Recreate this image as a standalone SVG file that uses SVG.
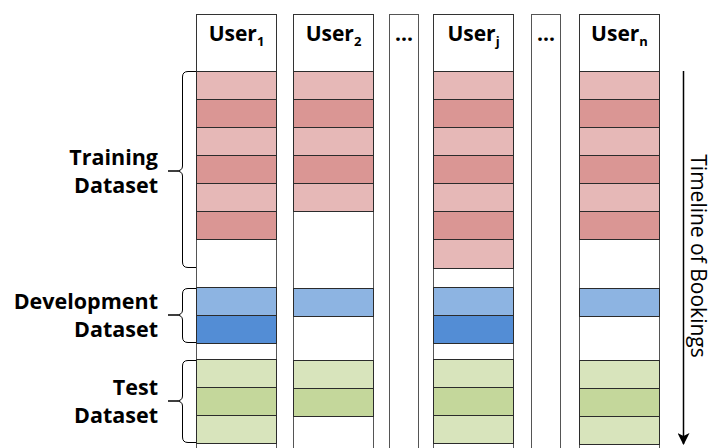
<svg xmlns="http://www.w3.org/2000/svg" width="712" height="448" viewBox="0 0 712 448">
  <defs>
    <style>
      .col { fill: #ffffff; stroke: #555555; stroke-width: 1; }
      .hdr { fill: #ffffff; stroke: #333333; stroke-width: 1; }
      .row { stroke: #2b2b2b; stroke-width: 1; }
      .p1 { fill: #E6B8B7; }
      .p2 { fill: #DA9694; }
      .b1 { fill: #8DB4E2; }
      .b2 { fill: #538DD5; }
      .g1 { fill: #D8E4BC; }
      .g2 { fill: #C4D79B; }
      .title { font-family: "Open Sans", "Noto Sans", "DejaVu Sans", sans-serif; font-weight: bold; font-size: 21px; fill: #000000; }
      .sub { font-size: 13px; }
      .lbl { font-family: "Open Sans", "Noto Sans", "DejaVu Sans", sans-serif; font-weight: bold; font-size: 21.5px; fill: #000000; text-anchor: end; }
      .axis { font-family: "Open Sans", "Noto Sans", "DejaVu Sans", sans-serif; font-size: 21px; fill: #000000; }
      .brace { fill: none; stroke: #000000; stroke-width: 1; }
    </style>
    <marker id="arrow" viewBox="0 0 12 12" refX="11" refY="6" markerWidth="12" markerHeight="12" markerUnits="userSpaceOnUse" orient="auto">
      <path d="M0,0 L12,6 L0,12 L3,6 Z" fill="#000000"/>
    </marker>
  </defs>

  <!-- user 1 -->
  <g id="user1">
    <rect class="col" x="196.5" y="14.5" width="80" height="440"/>
    <rect class="hdr" x="196.5" y="14.5" width="80" height="57"/>
    <text class="title" x="236.5" y="41" text-anchor="middle">User<tspan class="sub" dy="5">1</tspan></text>
    <rect class="row p1" x="196.5" y="71.5" width="80" height="28"/>
    <rect class="row p2" x="196.5" y="99.5" width="80" height="28"/>
    <rect class="row p1" x="196.5" y="127.5" width="80" height="28"/>
    <rect class="row p2" x="196.5" y="155.5" width="80" height="28"/>
    <rect class="row p1" x="196.5" y="183.5" width="80" height="28"/>
    <rect class="row p2" x="196.5" y="211.5" width="80" height="28"/>
    <rect class="row b1" x="196.5" y="287.5" width="80" height="28"/>
    <rect class="row b2" x="196.5" y="315.5" width="80" height="28"/>
    <rect class="row g1" x="196.5" y="359.5" width="80" height="28"/>
    <rect class="row g2" x="196.5" y="387.5" width="80" height="28"/>
    <rect class="row g1" x="196.5" y="415.5" width="80" height="28"/>
  </g>

  <!-- user 2 -->
  <g id="user2">
    <rect class="col" x="293.5" y="14.5" width="80" height="440"/>
    <rect class="hdr" x="293.5" y="14.5" width="80" height="57"/>
    <text class="title" x="333.5" y="41" text-anchor="middle">User<tspan class="sub" dy="5">2</tspan></text>
    <rect class="row p1" x="293.5" y="71.5" width="80" height="28"/>
    <rect class="row p2" x="293.5" y="99.5" width="80" height="28"/>
    <rect class="row p1" x="293.5" y="127.5" width="80" height="28"/>
    <rect class="row p2" x="293.5" y="155.5" width="80" height="28"/>
    <rect class="row p1" x="293.5" y="183.5" width="80" height="28"/>
    <rect class="row b1" x="293.5" y="288.5" width="80" height="28"/>
    <rect class="row g1" x="293.5" y="360.5" width="80" height="28"/>
    <rect class="row g2" x="293.5" y="388.5" width="80" height="28"/>
  </g>

  <!-- ellipsis column -->
  <g id="gap1">
    <rect class="col" x="389.5" y="14.5" width="29" height="440"/>
    <text class="title" x="404" y="41" text-anchor="middle">...</text>
  </g>

  <!-- user j -->
  <g id="userj">
    <rect class="col" x="433.5" y="14.5" width="80" height="440"/>
    <rect class="hdr" x="433.5" y="14.5" width="80" height="57"/>
    <text class="title" x="473.5" y="41" text-anchor="middle">User<tspan class="sub" dy="5">j</tspan></text>
    <rect class="row p1" x="433.5" y="71.5" width="80" height="28"/>
    <rect class="row p2" x="433.5" y="99.5" width="80" height="28"/>
    <rect class="row p1" x="433.5" y="127.5" width="80" height="28"/>
    <rect class="row p2" x="433.5" y="155.5" width="80" height="28"/>
    <rect class="row p1" x="433.5" y="183.5" width="80" height="28"/>
    <rect class="row p2" x="433.5" y="211.5" width="80" height="28"/>
    <rect class="row p1" x="433.5" y="239.5" width="80" height="29"/>
    <rect class="row b1" x="433.5" y="287.5" width="80" height="28"/>
    <rect class="row b2" x="433.5" y="315.5" width="80" height="28"/>
    <rect class="row g1" x="433.5" y="359.5" width="80" height="28"/>
    <rect class="row g2" x="433.5" y="387.5" width="80" height="28"/>
    <rect class="row g1" x="433.5" y="415.5" width="80" height="28"/>
  </g>

  <!-- ellipsis column -->
  <g id="gap2">
    <rect class="col" x="531.5" y="14.5" width="29" height="440"/>
    <text class="title" x="546" y="41" text-anchor="middle">...</text>
  </g>

  <!-- user n -->
  <g id="usern">
    <rect class="col" x="579.5" y="14.5" width="80" height="440"/>
    <rect class="hdr" x="579.5" y="14.5" width="80" height="57"/>
    <text class="title" x="619.5" y="41" text-anchor="middle">User<tspan class="sub" dy="5">n</tspan></text>
    <rect class="row p1" x="579.5" y="71.5" width="80" height="28"/>
    <rect class="row p2" x="579.5" y="99.5" width="80" height="28"/>
    <rect class="row p1" x="579.5" y="127.5" width="80" height="28"/>
    <rect class="row p2" x="579.5" y="155.5" width="80" height="28"/>
    <rect class="row p1" x="579.5" y="183.5" width="80" height="28"/>
    <rect class="row p2" x="579.5" y="211.5" width="80" height="28"/>
    <rect class="row b1" x="579.5" y="288.5" width="80" height="28"/>
    <rect class="row g1" x="579.5" y="360.5" width="80" height="28"/>
    <rect class="row g2" x="579.5" y="388.5" width="80" height="28"/>
    <rect class="row g1" x="579.5" y="416.5" width="80" height="28"/>
  </g>

  <!-- dataset labels -->
  <g id="training">
    <text class="lbl" x="158" y="165">Training</text>
    <text class="lbl" x="158" y="193">Dataset</text>
  </g>
  <g id="development">
    <text class="lbl" x="158" y="309">Development</text>
    <text class="lbl" x="158" y="337">Dataset</text>
  </g>
  <g id="test">
    <text class="lbl" x="158" y="395">Test</text>
    <text class="lbl" x="158" y="423">Dataset</text>
  </g>

  <!-- braces and timeline -->
  <g id="connectors">
    <path class="brace" d="M196,71.5 L188,71.5 Q182.5,71.5 182.5,77 L182.5,166 Q182.5,171 176,171 L168,171 L176,171 Q182.5,171 182.5,176 L182.5,262 Q182.5,267.5 188,267.5 L196,267.5"/>
    <path class="brace" d="M196,288.5 L188,288.5 Q182.5,288.5 182.5,294 L182.5,310 Q182.5,315 176,315 L168,315 L176,315 Q182.5,315 182.5,320 L182.5,337 Q182.5,342.5 188,342.5 L196,342.5"/>
    <path class="brace" d="M196,360.5 L188,360.5 Q182.5,360.5 182.5,366 L182.5,396 Q182.5,401 176,401 L168,401 L176,401 Q182.5,401 182.5,406 L182.5,437 Q182.5,442.5 188,442.5 L196,442.5"/>
    <line x1="683.5" y1="71" x2="683.5" y2="444" stroke="#000000" stroke-width="1.5" marker-end="url(#arrow)"/>
  </g>

  <text class="axis" transform="translate(691,256) rotate(90)" text-anchor="middle">Timeline of Bookings</text>
</svg>
